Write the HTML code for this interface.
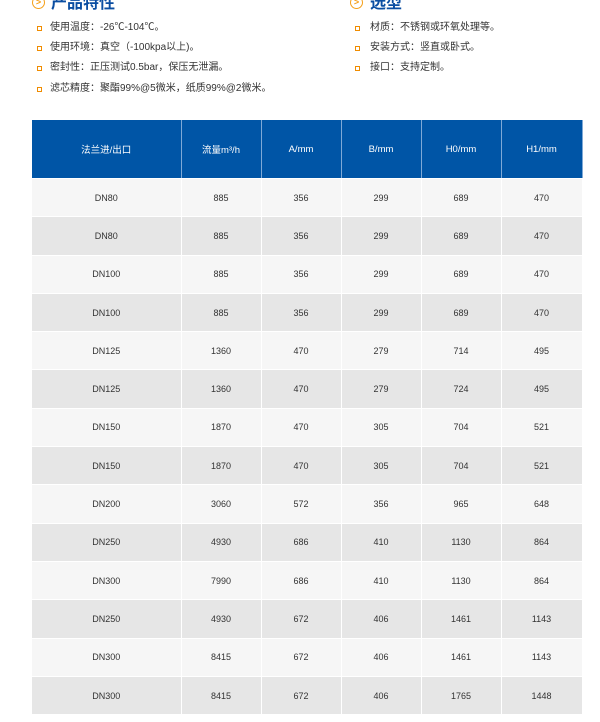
<!DOCTYPE html>
<html><head><meta charset="utf-8"><style>
body{margin:0;width:600px;height:722px;background:#fff;font-family:"Liberation Sans","Noto Sans CJK SC",sans-serif;position:relative;overflow:hidden}
.h{position:absolute;top:-6px;font-size:16px;font-weight:bold;color:#0b4ea2;line-height:20px}
.ic{position:absolute;top:-4px;width:11px;height:11px;border:1.5px solid #f5a01a;border-radius:50%;color:#f5a01a;font-size:9px;line-height:11px;text-align:center;font-weight:bold}
.li{position:absolute;font-size:10px;color:#333;line-height:14px}
.sq{position:absolute;width:3px;height:3px;border:1.5px solid #f08c00;background:#fff}
table{position:absolute;left:32px;top:120px;width:550px;border-collapse:collapse;table-layout:fixed}
td,th{text-align:center;font-size:9px;color:#333;padding:0;border-right:1.5px solid #fff;border-bottom:1.5px solid #fff}
th{background:#0055a6;color:#fff;height:58px;font-weight:normal;font-size:9.5px;border-right:1px solid #7fa9d6}
td{height:37.3px}
tr:nth-child(even) td{background:#f6f6f6}
tr:nth-child(odd) td{background:#e6e6e6}
</style></head><body>
<div class="ic" style="left:32px">&gt;</div><div class="h" style="left:51px">产品特性</div>
<div class="ic" style="left:350px">&gt;</div><div class="h" style="left:370px">选型</div>
<div class="sq" style="left:37px;top:26px"></div><div class="li" style="left:50px;top:21px">使用温度：-26℃-104℃。</div>
<div class="sq" style="left:37px;top:46px"></div><div class="li" style="left:50px;top:41px">使用环境：真空（-100kpa以上)。</div>
<div class="sq" style="left:37px;top:66px"></div><div class="li" style="left:50px;top:61px">密封性：正压测试0.5bar，保压无泄漏。</div>
<div class="sq" style="left:37px;top:87px"></div><div class="li" style="left:50px;top:82px">滤芯精度：聚酯99%@5微米，纸质99%@2微米。</div>
<div class="sq" style="left:355px;top:26px"></div><div class="li" style="left:370px;top:21px">材质：不锈钢或环氧处理等。</div>
<div class="sq" style="left:355px;top:46px"></div><div class="li" style="left:370px;top:41px">安装方式：竖直或卧式。</div>
<div class="sq" style="left:355px;top:66px"></div><div class="li" style="left:370px;top:61px">接口：支持定制。</div>
<table>
<colgroup><col style="width:149px"><col style="width:80px"><col style="width:80px"><col style="width:80px"><col style="width:80px"><col style="width:81px"></colgroup>
<tr><th>法兰进/出口</th><th>流量m³/h</th><th>A/mm</th><th>B/mm</th><th>H0/mm</th><th>H1/mm</th></tr>
<tr><td>DN80</td><td>885</td><td>356</td><td>299</td><td>689</td><td>470</td></tr>
<tr><td>DN80</td><td>885</td><td>356</td><td>299</td><td>689</td><td>470</td></tr>
<tr><td>DN100</td><td>885</td><td>356</td><td>299</td><td>689</td><td>470</td></tr>
<tr><td>DN100</td><td>885</td><td>356</td><td>299</td><td>689</td><td>470</td></tr>
<tr><td>DN125</td><td>1360</td><td>470</td><td>279</td><td>714</td><td>495</td></tr>
<tr><td>DN125</td><td>1360</td><td>470</td><td>279</td><td>724</td><td>495</td></tr>
<tr><td>DN150</td><td>1870</td><td>470</td><td>305</td><td>704</td><td>521</td></tr>
<tr><td>DN150</td><td>1870</td><td>470</td><td>305</td><td>704</td><td>521</td></tr>
<tr><td>DN200</td><td>3060</td><td>572</td><td>356</td><td>965</td><td>648</td></tr>
<tr><td>DN250</td><td>4930</td><td>686</td><td>410</td><td>1130</td><td>864</td></tr>
<tr><td>DN300</td><td>7990</td><td>686</td><td>410</td><td>1130</td><td>864</td></tr>
<tr><td>DN250</td><td>4930</td><td>672</td><td>406</td><td>1461</td><td>1143</td></tr>
<tr><td>DN300</td><td>8415</td><td>672</td><td>406</td><td>1461</td><td>1143</td></tr>
<tr><td>DN300</td><td>8415</td><td>672</td><td>406</td><td>1765</td><td>1448</td></tr>
</table>
</body></html>
